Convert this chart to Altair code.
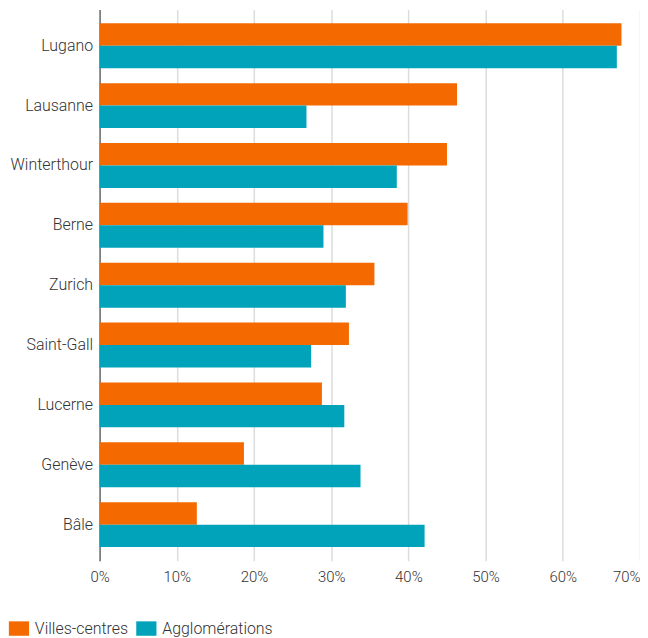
import altair as alt
import pandas as pd

cities = ["Lugano", "Lausanne", "Winterthour", "Berne", "Zurich",
          "Saint-Gall", "Lucerne", "Genève", "Bâle"]
villes_centres = [67.6, 46.3, 45.0, 39.9, 35.6, 32.3, 28.8, 18.7, 12.6]
agglomerations = [67.0, 26.8, 38.5, 29.0, 31.9, 27.4, 31.7, 33.8, 42.1]
series = ["Villes-centres", "Agglomérations"]
colors = ["#f46a00", "#00a3ba"]
x_ticks = [0, 10, 20, 30, 40, 50, 60, 70]

rows = []
for c, v, a in zip(cities, villes_centres, agglomerations):
    rows.append({"ville": c, "serie": series[0], "valeur": v})
    rows.append({"ville": c, "serie": series[1], "valeur": a})
df = pd.DataFrame(rows)

FONT = "Roboto"

chart = alt.Chart(df).mark_bar().encode(
    y=alt.Y("ville:N", sort=cities,
            scale=alt.Scale(paddingInner=0.25, paddingOuter=0.23),
            axis=alt.Axis(title=None, ticks=False, domainColor="#333333",
                          domainWidth=1, labelPadding=7, labelFontSize=16,
                          labelColor="#333333", labelFontWeight=300, grid=False)),
    yOffset=alt.YOffset("serie:N", sort=series,
                        scale=alt.Scale(paddingInner=0, paddingOuter=0)),
    x=alt.X("valeur:Q", scale=alt.Scale(domain=[0, 70], nice=False),
            axis=alt.Axis(values=x_ticks, title=None,
                          labelExpr="datum.value + '%'",
                          domain=False, ticks=False,
                          gridColor="#dcdcdc", gridWidth=1.5,
                          labelAlign={"condition": {"test": "datum.value == 70", "value": "right"},
                                      "value": "center"},
                          labelOverlap=False, labelFlush=False,
                          labelPadding=9, labelFontSize=15,
                          labelColor="#333333", labelFontWeight=300)),
    color=alt.Color("serie:N", sort=series,
                    scale=alt.Scale(domain=series, range=colors),
                    legend=alt.Legend(title=None, orient="none",
                                      direction="horizontal",
                                      legendX=-89, legendY=614,
                                      symbolType="M-1.4,-1H1.4V1H-1.4Z",
                                      symbolSize=210, symbolOpacity=1,
                                      symbolStrokeWidth=0,
                                      labelFontSize=16, labelFontWeight=300,
                                      labelColor="#333333", labelOffset=8,
                                      columnPadding=7, padding=0, offset=0)),
).properties(
    width=543, height=554,
    autosize=alt.AutoSizeParams(type="none"),
    padding={"left": 92, "top": 0, "right": 0, "bottom": 76},
).configure(font=FONT).configure_view(stroke=None)

chart.save("out.html", embed_options={"renderer": "svg", "actions": False})
